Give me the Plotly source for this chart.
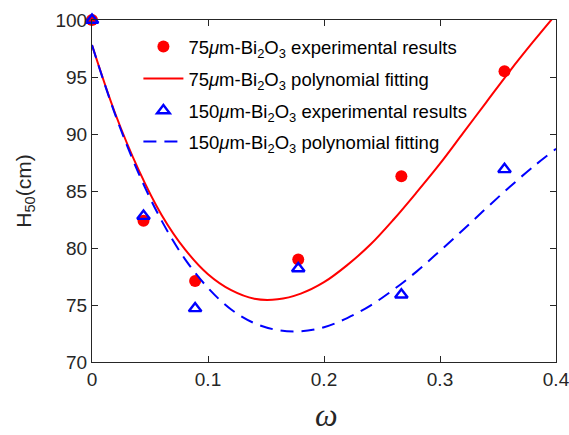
import plotly.graph_objects as go

# experimental data
omega_exp = [0.0, 0.0444, 0.0889, 0.1778, 0.2667, 0.3556]
h50_75 = [100.0, 82.4, 77.1, 79.0, 86.3, 95.5]
h50_150 = [100.0, 82.8, 74.7, 78.2, 75.9, 86.9]

# fitting curves
omega_fit = [0.0, 0.02, 0.04, 0.06, 0.08, 0.10, 0.12, 0.14, 0.16, 0.18, 0.20,
             0.22, 0.24, 0.26, 0.28, 0.30, 0.32, 0.34, 0.36, 0.38, 0.40]
fit_75 = [97.8, 91.8, 86.9, 82.9, 79.9, 77.7, 76.3, 75.55, 75.5, 76.0, 77.0,
          78.5, 80.3, 82.5, 84.9, 87.4, 90.1, 92.8, 95.5, 98.05, 100.5]
fit_150 = [97.8, 91.7, 86.6, 82.4, 79.05, 76.5, 74.6, 73.4, 72.8, 72.7, 73.05,
           73.85, 74.95, 76.35, 77.95, 79.75, 81.6, 83.5, 85.35, 87.1, 88.7]

x_ticks = [0, 0.1, 0.2, 0.3, 0.4]
x_ticklabels = ["0", "0.1", "0.2", "0.3", "0.4"]
y_ticks = [70, 75, 80, 85, 90, 95, 100]

names = [
    "75<i>μ</i>m-Bi<sub>2</sub>O<sub>3</sub> experimental results",
    "75<i>μ</i>m-Bi<sub>2</sub>O<sub>3</sub> polynomial fitting",
    "150<i>μ</i>m-Bi<sub>2</sub>O<sub>3</sub> experimental results",
    "150<i>μ</i>m-Bi<sub>2</sub>O<sub>3</sub> polynomial fitting",
]

FONT = "Liberation Sans, Arial, sans-serif"
TXT = "#262626"

fig = go.Figure()
fig.add_trace(go.Scatter(x=omega_exp, y=h50_75, mode="markers", name=names[0],
                         marker=dict(symbol="circle", size=12, color="#ff0000"),
                         cliponaxis=False, legend="legend"))
fig.add_trace(go.Scatter(x=omega_fit, y=fit_75, mode="lines", name=names[1],
                         line=dict(color="#ff0000", width=2, shape="spline"),
                         legend="legend2"))
fig.add_trace(go.Scatter(x=omega_exp, y=h50_150, mode="markers", name=names[2],
                         marker=dict(symbol="triangle-up-open", size=11, color="#0000ff",
                                     line=dict(width=2.4, color="#0000ff")),
                         cliponaxis=False, legend="legend3"))
fig.add_trace(go.Scatter(x=omega_fit, y=fit_150, mode="lines", name=names[3],
                         line=dict(color="#0000ff", width=2, dash="13px,8px", shape="spline"),
                         legend="legend4"))

axis_common = dict(showline=True, linecolor=TXT, linewidth=1, mirror="ticks",
                   ticks="inside", ticklen=6, tickcolor=TXT, showgrid=False,
                   zeroline=False, automargin=False, ticklabeloverflow="allow",
                   tickfont=dict(family=FONT, size=19, color=TXT))

fig.update_xaxes(range=[0, 0.4], tickvals=x_ticks, ticktext=x_ticklabels, **axis_common)
fig.update_yaxes(range=[70, 100], tickvals=y_ticks, **axis_common)

fig.add_annotation(text="<i>ω</i>", xref="paper", yref="paper", x=0.506, y=-0.2125,
                   xanchor="center", yanchor="bottom", showarrow=False,
                   font=dict(family="Liberation Serif, serif", size=32, color=TXT))
fig.add_annotation(text="H<sub>50</sub>(cm)", xref="paper", yref="paper", x=-0.145, y=0.5,
                   xanchor="center", yanchor="middle", showarrow=False, textangle=-90,
                   font=dict(family=FONT, size=21, color=TXT))


def leg(ypix):
    return dict(x=0.1, y=1 - (ypix - 20) / 342, xanchor="left", yanchor="middle",
                bgcolor="rgba(0,0,0,0)", borderwidth=0,
                font=dict(family=FONT, size=18.5, color="#000000"),
                itemwidth=40)


fig.update_layout(
    width=569, height=435,
    margin=dict(l=92, r=13, t=20, b=73, autoexpand=False),
    paper_bgcolor="white", plot_bgcolor="white",
    showlegend=True,
    legend=leg(47), legend2=leg(79), legend3=leg(111), legend4=leg(142),
)

fig.write_html("out.html")
